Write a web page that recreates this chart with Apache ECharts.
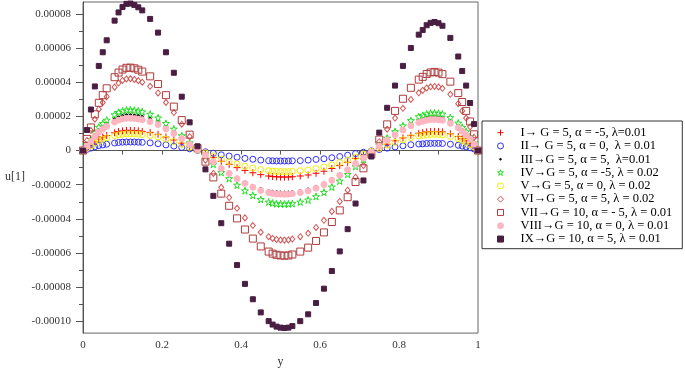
<!DOCTYPE html>
<html style="height: 100%">
<head>
	<meta charset="utf-8">
	<script src="https://cdn.jsdelivr.net/npm/echarts@6/dist/echarts.min.js"></script>
</head>
<body style="height: 100%; margin: 0">
	<div id="container" style="width: 685px; height: 373px;"></div>
	<script type="text/javascript">
		// y positions of the sample points
		let yGrid = [0, 0.01, 0.02, 0.03, 0.04, 0.05, 0.06, 0.08, 0.09, 0.10, 0.11, 0.12, 0.13, 0.14, 0.15,
			0.17, 0.19, 0.21, 0.23, 0.25, 0.27, 0.29, 0.31, 0.33, 0.35, 0.37, 0.39, 0.41, 0.43, 0.45,
			0.47, 0.48, 0.49, 0.50, 0.51, 0.52, 0.53, 0.55, 0.57, 0.59, 0.61, 0.63, 0.65, 0.67, 0.69,
			0.71, 0.73, 0.75, 0.77, 0.79, 0.81, 0.83, 0.85, 0.86, 0.87, 0.88, 0.89, 0.90, 0.91, 0.93,
			0.95, 0.96, 0.97, 0.98, 0.99, 1.0];

		// u[1] values, in units of 1e-5
		let uI = [0, 0.16, 0.33, 0.51, 0.68, 0.79, 0.88, 1.04, 1.11, 1.15, 1.18, 1.18, 1.17, 1.15, 1.12,
			1.06, 0.95, 0.79, 0.62, 0.43, 0.23, 0.03, -0.16, -0.40, -0.63, -0.81, -1.00, -1.16, -1.30, -1.41,
			-1.49, -1.52, -1.54, -1.55, -1.55, -1.55, -1.53, -1.49, -1.43, -1.33, -1.21, -1.05, -0.88, -0.69, -0.46,
			-0.26, -0.05, 0.16, 0.37, 0.57, 0.74, 0.89, 1.01, 1.05, 1.09, 1.11, 1.12, 1.11, 1.09, 0.98,
			0.82, 0.69, 0.57, 0.41, 0.23, 0];
		let uII = [0, 0.07, 0.14, 0.22, 0.29, 0.33, 0.37, 0.44, 0.47, 0.49, 0.50, 0.50, 0.50, 0.49, 0.48,
			0.45, 0.40, 0.33, 0.26, 0.18, 0.10, 0.01, -0.07, -0.16, -0.25, -0.32, -0.39, -0.46, -0.51, -0.56,
			-0.59, -0.60, -0.61, -0.61, -0.61, -0.61, -0.60, -0.59, -0.56, -0.52, -0.48, -0.42, -0.35, -0.27, -0.18,
			-0.10, -0.02, 0.06, 0.14, 0.21, 0.28, 0.34, 0.38, 0.39, 0.41, 0.42, 0.42, 0.42, 0.41, 0.37,
			0.31, 0.26, 0.21, 0.16, 0.09, 0];
		let uIII = [0, 0.29, 0.58, 0.91, 1.20, 1.39, 1.56, 1.84, 1.95, 2.03, 2.08, 2.08, 2.06, 2.03, 1.98,
			1.86, 1.67, 1.39, 1.10, 0.76, 0.40, 0.06, -0.26, -0.63, -1.00, -1.29, -1.58, -1.84, -2.05, -2.23,
			-2.36, -2.40, -2.43, -2.44, -2.45, -2.44, -2.42, -2.36, -2.26, -2.11, -1.91, -1.66, -1.39, -1.09, -0.73,
			-0.41, -0.08, 0.27, 0.65, 0.99, 1.28, 1.56, 1.76, 1.83, 1.90, 1.94, 1.95, 1.93, 1.89, 1.71,
			1.43, 1.21, 0.99, 0.72, 0.40, 0];
		let uIV = [0, 0.33, 0.66, 1.04, 1.37, 1.59, 1.78, 2.10, 2.24, 2.32, 2.37, 2.38, 2.36, 2.32, 2.27,
			2.13, 1.91, 1.59, 1.26, 0.87, 0.46, 0.07, -0.33, -0.80, -1.28, -1.64, -2.02, -2.35, -2.62, -2.86,
			-3.01, -3.07, -3.11, -3.12, -3.13, -3.12, -3.10, -3.01, -2.89, -2.69, -2.44, -2.13, -1.78, -1.39, -0.93,
			-0.53, -0.11, 0.31, 0.73, 1.11, 1.45, 1.76, 1.98, 2.06, 2.14, 2.19, 2.20, 2.18, 2.14, 1.93,
			1.61, 1.36, 1.11, 0.81, 0.45, 0];
		let uV = [0, 0.14, 0.27, 0.43, 0.56, 0.66, 0.74, 0.87, 0.92, 0.96, 0.98, 0.98, 0.97, 0.96, 0.93,
			0.88, 0.79, 0.66, 0.52, 0.36, 0.19, 0.03, -0.13, -0.31, -0.50, -0.65, -0.79, -0.92, -1.03, -1.12,
			-1.18, -1.21, -1.22, -1.23, -1.23, -1.23, -1.22, -1.18, -1.14, -1.06, -0.96, -0.84, -0.70, -0.55, -0.37,
			-0.21, -0.04, 0.13, 0.32, 0.48, 0.63, 0.76, 0.86, 0.89, 0.93, 0.94, 0.95, 0.94, 0.92, 0.83,
			0.69, 0.59, 0.48, 0.35, 0.20, 0];
		let uVI = [0, 0.59, 1.17, 1.83, 2.42, 2.81, 3.15, 3.71, 3.95, 4.10, 4.19, 4.20, 4.16, 4.09, 4.00,
			3.76, 3.37, 2.81, 2.22, 1.54, 0.81, 0.12, -0.56, -1.34, -2.15, -2.75, -3.38, -3.94, -4.39, -4.78,
			-5.04, -5.14, -5.20, -5.23, -5.24, -5.23, -5.18, -5.04, -4.84, -4.50, -4.08, -3.56, -2.98, -2.32, -1.56,
			-0.88, -0.18, 0.52, 1.25, 1.90, 2.47, 2.99, 3.38, 3.52, 3.66, 3.73, 3.75, 3.72, 3.64, 3.29,
			2.74, 2.32, 1.90, 1.39, 0.77, 0];
		let uVII = [0, 0.68, 1.35, 2.12, 2.79, 3.24, 3.64, 4.29, 4.56, 4.74, 4.84, 4.85, 4.81, 4.73, 4.62,
			4.34, 3.89, 3.24, 2.57, 1.78, 0.93, 0.14, -0.65, -1.57, -2.52, -3.23, -3.97, -4.62, -5.15, -5.61,
			-5.91, -6.03, -6.10, -6.14, -6.15, -6.14, -6.08, -5.91, -5.68, -5.29, -4.79, -4.18, -3.50, -2.73, -1.84,
			-1.04, -0.21, 0.64, 1.53, 2.32, 3.03, 3.67, 4.15, 4.31, 4.48, 4.57, 4.60, 4.56, 4.47, 4.03,
			3.36, 2.84, 2.32, 1.70, 0.95, 0];
		let uVIII = [0, 0.26, 0.53, 0.82, 1.09, 1.26, 1.42, 1.67, 1.78, 1.85, 1.89, 1.89, 1.87, 1.84, 1.80,
			1.69, 1.52, 1.26, 1.00, 0.69, 0.36, 0.05, -0.27, -0.65, -1.05, -1.34, -1.65, -1.92, -2.15, -2.34,
			-2.46, -2.51, -2.54, -2.55, -2.56, -2.55, -2.53, -2.46, -2.36, -2.20, -1.99, -1.74, -1.45, -1.13, -0.76,
			-0.43, -0.09, 0.25, 0.61, 0.92, 1.20, 1.45, 1.64, 1.71, 1.77, 1.81, 1.82, 1.80, 1.77, 1.59,
			1.33, 1.13, 0.92, 0.67, 0.38, 0];
		let uIX = [0, 1.2, 2.4, 3.75, 4.95, 5.75, 6.45, 7.6, 8.08, 8.4, 8.58, 8.6, 8.52, 8.38, 8.2,
			7.7, 6.9, 5.75, 4.55, 3.15, 1.65, 0.25, -1.1, -2.65, -4.25, -5.45, -6.7, -7.8, -8.7, -9.47,
			-9.98, -10.18, -10.3, -10.36, -10.38, -10.36, -10.27, -9.98, -9.58, -8.92, -8.08, -7.05, -5.9, -4.6, -3.1,
			-1.75, -0.35, 1.05, 2.5, 3.8, 4.95, 6.0, 6.78, 7.05, 7.33, 7.47, 7.52, 7.45, 7.3, 6.59,
			5.5, 4.65, 3.8, 2.78, 1.55, 0];

		let legendNames = [
			'I\u2192 G = 5, \u03b1 = -5, \u03bb=0.01',
			'II\u2192 G = 5, \u03b1 = 0,  \u03bb = 0.01',
			'III\u2192G = 5, \u03b1 = 5,  \u03bb=0.01',
			'IV\u2192G = 5, \u03b1 = -5, \u03bb = 0.02',
			'V\u2192G = 5, \u03b1 = 0, \u03bb = 0.02',
			'VI\u2192G = 5, \u03b1 = 5, \u03bb = 0.02',
			'VII\u2192G = 10, \u03b1 = - 5, \u03bb = 0.01',
			'VIII\u2192G = 10, \u03b1 = 0, \u03bb = 0.01',
			'IX\u2192G = 10, \u03b1 = 5, \u03bb = 0.01'
		];
		let yTickValues = [-10, -8, -6, -4, -2, 0, 2, 4, 6, 8];
		let yMinorValues = [-9, -7, -5, -3, -1, 1, 3, 5, 7];
		let xTickValues = [0, 0.1, 0.2, 0.3, 0.4, 0.5, 0.6, 0.7, 0.8, 0.9, 1];
		let xLabelValues = [0, 0.2, 0.4, 0.6, 0.8, 1];

		let plusPath = 'path://M0,5L10,5M5,0L5,10';
		let starPath = 'path://M5,0L6.2,3.6L10,3.6L6.9,5.9L8.1,9.5L5,7.3L1.9,9.5L3.1,5.9L0,3.6L3.8,3.6Z';
		let dotPath = 'path://M0,0M10,10M3.6,5A1.4,1.4 0 1,1 6.4,5A1.4,1.4 0 1,1 3.6,5Z';
		let clear = 'rgba(0,0,0,0)';

		let styles = [
			{ data: uI, symbol: plusPath, size: 7, fill: clear, stroke: '#ff0000' },
			{ data: uII, symbol: 'circle', size: 6, fill: clear, stroke: '#3030ff' },
			{ data: uIII, symbol: 'circle', size: 2.5, fill: '#000000', stroke: '#000000', icon: dotPath },
			{ data: uIV, symbol: starPath, size: 7, fill: clear, stroke: '#22dd22' },
			{ data: uV, symbol: 'circle', size: 6, fill: clear, stroke: '#f0f000' },
			{ data: uVI, symbol: 'diamond', size: [5, 6], fill: clear, stroke: '#d25454' },
			{ data: uVII, symbol: 'rect', size: 7, fill: clear, stroke: '#b03c3c' },
			{ data: uVIII, symbol: 'circle', size: 6, fill: '#ffb6c1', stroke: '#ffb6c1' },
			{ data: uIX, symbol: 'rect', size: 5, fill: '#4a1e42', stroke: '#4a1e42' }
		];

		let dom = document.getElementById('container');
		let myChart = echarts.init(dom);

		let seriesData = [];
		let legendData = [];
		for (let k = 0; k < styles.length; k++) {
			let s = styles[k];
			seriesData.push({
				name: legendNames[k],
				type: 'scatter',
				symbol: s.symbol,
				symbolSize: s.size,
				itemStyle: { color: s.fill, borderColor: s.stroke, borderWidth: 1, opacity: 1 },
				data: yGrid.map(function (x, i) { return [x, s.data[i]]; })
			});
			legendData.push({
				name: legendNames[k],
				icon: s.icon || s.symbol,
				itemStyle: { color: s.fill, borderColor: s.stroke, borderWidth: 1 }
			});
		}

		let axisFont = { fontFamily: 'Liberation Serif', fontSize: 11, color: '#333' };

		let option = {
			animation: false,
			backgroundColor: '#ffffff',
			grid: {
				left: 83, right: 207, top: 2, bottom: 30,
				show: true, borderColor: '#666', borderWidth: 1
			},
			legend: {
				orient: 'vertical',
				left: 482, top: 121,
				itemWidth: 6, itemHeight: 6, itemGap: 0,
				padding: [5, 10, 3, 15],
				borderColor: '#333', borderWidth: 1,
				textStyle: {
					fontFamily: 'Liberation Serif', fontSize: 12.5, lineHeight: 13.3, color: '#000',
					padding: [0, 0, 0, 12]
				},
				data: legendData
			},
			xAxis: {
				type: 'value', min: 0, max: 1,
				name: 'y', nameLocation: 'middle', nameGap: 17,
				nameTextStyle: { fontFamily: 'Liberation Serif', fontSize: 12, color: '#333' },
				axisLine: { lineStyle: { color: '#555' } },
				axisTick: { show: true, length: 4, customValues: xTickValues, lineStyle: { color: '#555' } },
				axisLabel: Object.assign({ customValues: xLabelValues, margin: 7 }, axisFont),
				splitLine: { show: false }
			},
			yAxis: [
				{
					type: 'value', min: -10.68, max: 8.69,
					axisLine: { show: true, lineStyle: { color: '#555' } },
					axisTick: { show: true, length: 7, customValues: yTickValues, lineStyle: { color: '#555' } },
					axisLabel: Object.assign({
						customValues: yTickValues, margin: 12,
						formatter: function (v) { return v === 0 ? '0' : (v * 1e-5).toFixed(5); }
					}, axisFont),
					splitLine: { show: false }
				},
				{
					type: 'value', min: -10.68, max: 8.69, position: 'left',
					axisLine: { show: false },
					axisTick: { show: true, length: 4, customValues: yMinorValues, lineStyle: { color: '#555' } },
					axisLabel: { show: false },
					splitLine: { show: false }
				}
			],
			graphic: [
				{
					type: 'text', left: 5, top: 171,
					style: { text: 'u[1]', fontFamily: 'Liberation Serif', fontSize: 12, fill: '#333' }
				}
			],
			series: seriesData
		};

		myChart.setOption(option);
	</script>
</body>
</html>
